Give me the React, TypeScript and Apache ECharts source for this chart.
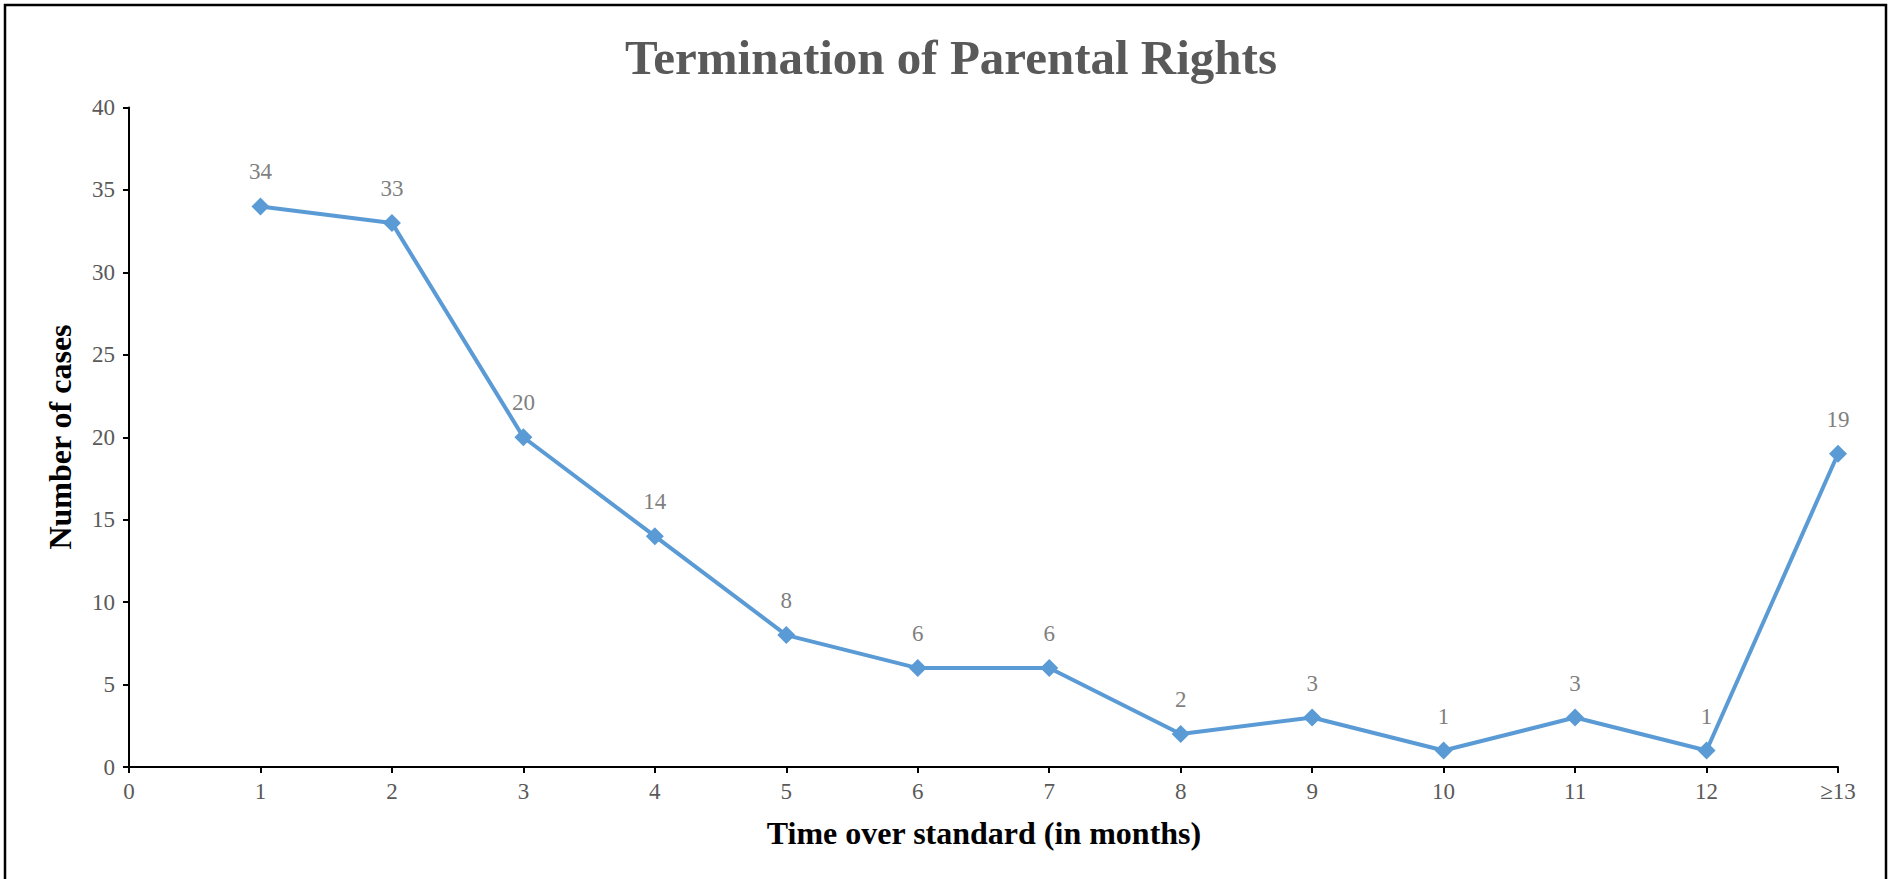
import React, { useEffect, useRef } from "react";
import * as echarts from "echarts";

const xValues = [1, 2, 3, 4, 5, 6, 7, 8, 9, 10, 11, 12, 13];
const caseCounts = [34, 33, 20, 14, 8, 6, 6, 2, 3, 1, 3, 1, 19];
const xTickLabels: Record<number, string> = { 13: "≥13" };
const titleText = "Termination of Parental Rights";
const xAxisTitle = "Time over standard (in months)";
const yAxisTitle = "Number of cases";

const SERIF = '"Times New Roman", "Liberation Serif", serif';

export default function App() {
  const ref = useRef<HTMLDivElement>(null);
  useEffect(() => {
    if (!ref.current) return;
    const chart = echarts.init(ref.current, undefined, { renderer: "svg" });
    chart.setOption({
      animation: false,
      backgroundColor: "#ffffff",
      title: {
        text: titleText,
        left: 946,
        top: 52,
        textAlign: "center",
        textVerticalAlign: "middle",
        textStyle: {
          fontFamily: SERIF,
          fontWeight: "bold",
          fontSize: 49,
          color: "#595959",
        },
      },
      graphic: [
        {
          type: "rect",
          shape: { x: 5, y: 5, width: 1881, height: 900 },
          style: { fill: "none", stroke: "#000000", lineWidth: 2.5 },
          silent: true,
        },
        {
          type: "text",
          x: 60,
          y: 437,
          rotation: Math.PI / 2,
          style: {
            text: yAxisTitle,
            fontFamily: SERIF,
            fontWeight: "bold",
            fontSize: 32,
            fill: "#000000",
            align: "center",
            verticalAlign: "middle",
          },
        },
        {
          type: "text",
          x: 984,
          y: 833,
          style: {
            text: xAxisTitle,
            fontFamily: SERIF,
            fontWeight: "bold",
            fontSize: 32,
            fill: "#000000",
            align: "center",
            verticalAlign: "middle",
          },
        },
      ],
      grid: { left: 129, right: 55, top: 107.5, bottom: 112, containLabel: false },
      xAxis: {
        type: "value",
        min: 0,
        max: 13,
        interval: 1,
        splitLine: { show: false },
        axisLine: { show: true, onZero: false, lineStyle: { color: "#000000", width: 2 } },
        axisTick: { show: true, inside: false, length: 6, lineStyle: { color: "#000000", width: 2 } },
        axisLabel: {
          margin: 13,
          fontFamily: SERIF,
          fontSize: 23,
          color: "#595959",
          formatter: (v: number) => xTickLabels[v] ?? String(v),
        },
      },
      yAxis: {
        type: "value",
        min: 0,
        max: 40,
        interval: 5,
        splitLine: { show: false },
        axisLine: { show: true, lineStyle: { color: "#000000", width: 2 } },
        axisTick: { show: true, inside: false, length: 6, lineStyle: { color: "#000000", width: 2 } },
        axisLabel: {
          margin: 14,
          fontFamily: SERIF,
          fontSize: 23,
          color: "#595959",
        },
      },
      series: [
        {
          type: "line",
          data: xValues.map((x, i) => [x, caseCounts[i]]),
          symbol: "diamond",
          symbolSize: 18,
          lineStyle: { color: "#5B9BD5", width: 4 },
          itemStyle: { color: "#5B9BD5" },
          label: {
            show: true,
            position: "top",
            distance: 14,
            fontFamily: SERIF,
            fontSize: 23,
            color: "#7F7F7F",
            formatter: (p: any) => String(p.value[1]),
          },
        },
      ],
    });
    return () => chart.dispose();
  }, []);
  return (
    <div
      ref={ref}
      style={{ position: "absolute", left: 0, top: 0, width: 1893, height: 879 }}
    />
  );
}
